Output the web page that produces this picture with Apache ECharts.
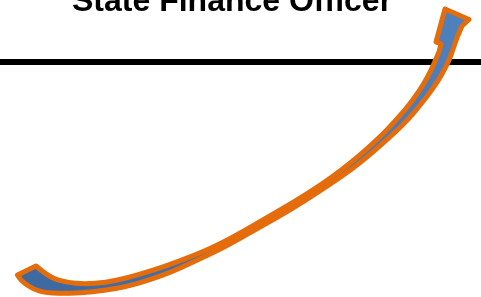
<!DOCTYPE html>
<html>
<head>
<meta charset="utf-8">
<style>
html, body { margin: 0; padding: 0; background: #fff; }
#main { width: 481px; height: 297px; }
</style>
<script src="https://cdn.jsdelivr.net/npm/echarts@6/dist/echarts.min.js"></script>
</head>
<body>
<div id="main"></div>
<script>
// heading text
var titleText = 'State Finance Officer';

// black rule under the heading
var ruleX = [0, 481];
var ruleY = [62, 62];

// curved arrow
// upper edge: from the tail corner up to the head notch
var upperX = [36, 48.8, 66.5, 85, 105.3, 127.6, 150.8, 173.9, 201, 221.1, 241.3, 261.3, 291.3, 321.4, 341.5, 359.6, 374.7, 388.8, 398.9, 407, 419.1, 428.2, 435.3, 439.3];
var upperY = [266, 277.2, 282.5, 284, 282.5, 277.9, 270.9, 263.3, 252.6, 243.4, 232.6, 220.9, 203.6, 184.6, 170, 155.4, 141.8, 128.2, 116.7, 107.6, 91.4, 76.2, 61, 50.9];
// arrow head: notch, barb, tip, right barb, inner corner
var headX = [441, 436, 445, 469, 462];
var headY = [44, 42, 9, 19.5, 26];
// lower edge: from below the head down to the tail point
var lowerX = [457.7, 453.6, 449.7, 441.8, 433, 420, 408.2, 396.3, 386.3, 373.4, 358.5, 343.6, 318.6, 288.7, 258.8, 238.8, 218.9, 193.9, 172, 149.2, 126.4, 104.7, 80, 60, 45.4, 34.1, 21.7, 17.5];
var lowerY = [36, 47.2, 59, 74.8, 88.6, 105.4, 119.3, 131.2, 140.1, 151.6, 164, 175, 191.9, 210.9, 227.6, 239.1, 249.9, 261.6, 271.7, 280.1, 286.6, 290.5, 293, 293.5, 292.5, 289.7, 281.2, 275];

var myChart = echarts.init(document.getElementById('main'));

// smooth run through points (quadratic curves between midpoints)
function smoothRun(pts) {
  var d = ' L' + pts[0][0] + ',' + pts[0][1];
  for (var i = 1; i < pts.length - 1; i++) {
    var mx = (pts[i][0] + pts[i + 1][0]) / 2, my = (pts[i][1] + pts[i + 1][1]) / 2;
    d += ' Q' + pts[i][0] + ',' + pts[i][1] + ' ' + mx + ',' + my;
  }
  var last = pts[pts.length - 1];
  d += ' L' + last[0] + ',' + last[1];
  return d;
}

var option = {
  animation: false,
  title: {
    text: titleText,
    left: 67,
    top: -19,
    textStyle: { fontFamily: 'Liberation Sans', fontSize: 32, fontWeight: 'bold', color: '#000' }
  },
  grid: { left: 0, right: 0, top: 0, bottom: 0 },
  xAxis: { type: 'value', min: 0, max: 481, show: false },
  yAxis: { type: 'value', min: 0, max: 297, inverse: true, show: false },
  series: [
    {
      type: 'line',
      data: ruleX.map(function (x, i) { return [x, ruleY[i]]; }),
      symbol: 'none',
      lineStyle: { color: '#000', width: 6 },
      z: 1
    },
    {
      type: 'custom',
      data: [[0, 0]],
      z: 2,
      renderItem: function (params, api) {
        var up = upperX.map(function (x, i) { return api.coord([x, upperY[i]]); });
        var hd = headX.map(function (x, i) { return api.coord([x, headY[i]]); });
        var lo = lowerX.map(function (x, i) { return api.coord([x, lowerY[i]]); });
        var start = lo[lo.length - 1];
        var d = 'M' + start[0] + ',' + start[1];
        d += smoothRun(up);
        hd.forEach(function (p) { d += ' L' + p[0] + ',' + p[1]; });
        d += smoothRun(lo);
        d += ' Z';
        return {
          type: 'path',
          shape: { pathData: d },
          style: {
            fill: new echarts.graphic.LinearGradient(1, 0, 0, 1, [
              { offset: 0, color: '#4f81bd' },
              { offset: 1, color: '#3d68a0' }
            ]),
            stroke: '#e46c0a',
            lineWidth: 5,
            lineJoin: 'round'
          }
        };
      }
    }
  ]
};

myChart.setOption(option);
</script>
</body>
</html>
